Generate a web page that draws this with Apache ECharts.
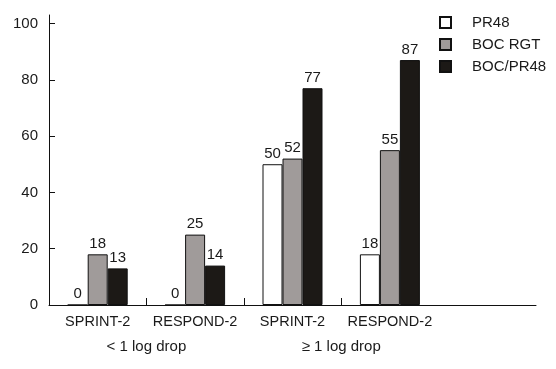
<!DOCTYPE html>
<html>
<head>
<meta charset="utf-8">
<script src="https://cdn.jsdelivr.net/npm/echarts@6/dist/echarts.min.js"></script>
<style>html,body{margin:0;padding:0;background:#fff}#c{width:556px;height:369px}</style>
</head>
<body>
<div id="c"></div>
<script>
const categories = ['SPRINT-2', 'RESPOND-2', 'SPRINT-2', 'RESPOND-2', ''];
const groupLabels = ['< 1 log drop', '≥ 1 log drop'];
const pr48 = [0, 0, 50, 18, '-'];
const bocRgt = [18, 25, 52, 55, '-'];
const bocPr48 = [13, 14, 77, 87, '-'];
const yTicks = [0, 20, 40, 60, 80, 100];
const groupTicks = [1, 2, 3];

const FONT = 'Liberation Sans';
const TXT = '#1a1a1a';
const chart = echarts.init(document.getElementById('c'));
const labelStyle = { show: true, position: 'top', distance: 3, color: TXT, fontFamily: FONT, fontSize: 15 };
function bar(name, data, color) {
  return {
    name, type: 'bar', data, barWidth: 20, barGap: '0%',
    itemStyle: { color, borderColor: '#111', borderWidth: 1 },
    label: labelStyle, animation: false
  };
}
chart.setOption({
  animation: false,
  grid: { left: 49, right: 20, top: 15, bottom: 64 },
  legend: {
    orient: 'vertical', left: 439, top: 15, padding: 0,
    itemWidth: 11, itemHeight: 11, itemGap: 7,
    icon: 'rect',
    textStyle: { fontFamily: FONT, fontSize: 15, color: TXT, lineHeight: 15, padding: [0, 0, 0, 16] },
    data: ['PR48', 'BOC RGT', 'BOC/PR48']
  },
  xAxis: [{
    type: 'category', data: categories,
    axisLine: { lineStyle: { color: '#111', width: 1 } },
    axisTick: { show: false },
    axisLabel: { fontFamily: FONT, fontSize: 14.5, color: TXT, margin: 9, interval: 0 }
  }, {
    type: 'value', min: 0, max: 5, position: 'bottom',
    axisLine: { show: false }, splitLine: { show: false },
    axisTick: { show: true, inside: true, length: 7, lineStyle: { color: '#111' }, customValues: groupTicks },
    axisLabel: {
      fontFamily: FONT, fontSize: 15, color: TXT, margin: 34,
      customValues: [1, 3],
      formatter: (v) => v === 1 ? groupLabels[0] : (v === 3 ? groupLabels[1] : '')
    }
  }],
  yAxis: {
    type: 'value', min: 0, max: 103,
    axisLine: { show: true, lineStyle: { color: '#111', width: 1 } },
    axisTick: { show: true, inside: true, length: 6, lineStyle: { color: '#111' }, customValues: yTicks },
    axisLabel: { fontFamily: FONT, fontSize: 15, color: TXT, margin: 11, customValues: yTicks },
    splitLine: { show: false }
  },
  series: [
    bar('PR48', pr48, '#ffffff'),
    bar('BOC RGT', bocRgt, '#a09b9a'),
    bar('BOC/PR48', bocPr48, '#1c1916')
  ]
});
</script>
</body>
</html>
